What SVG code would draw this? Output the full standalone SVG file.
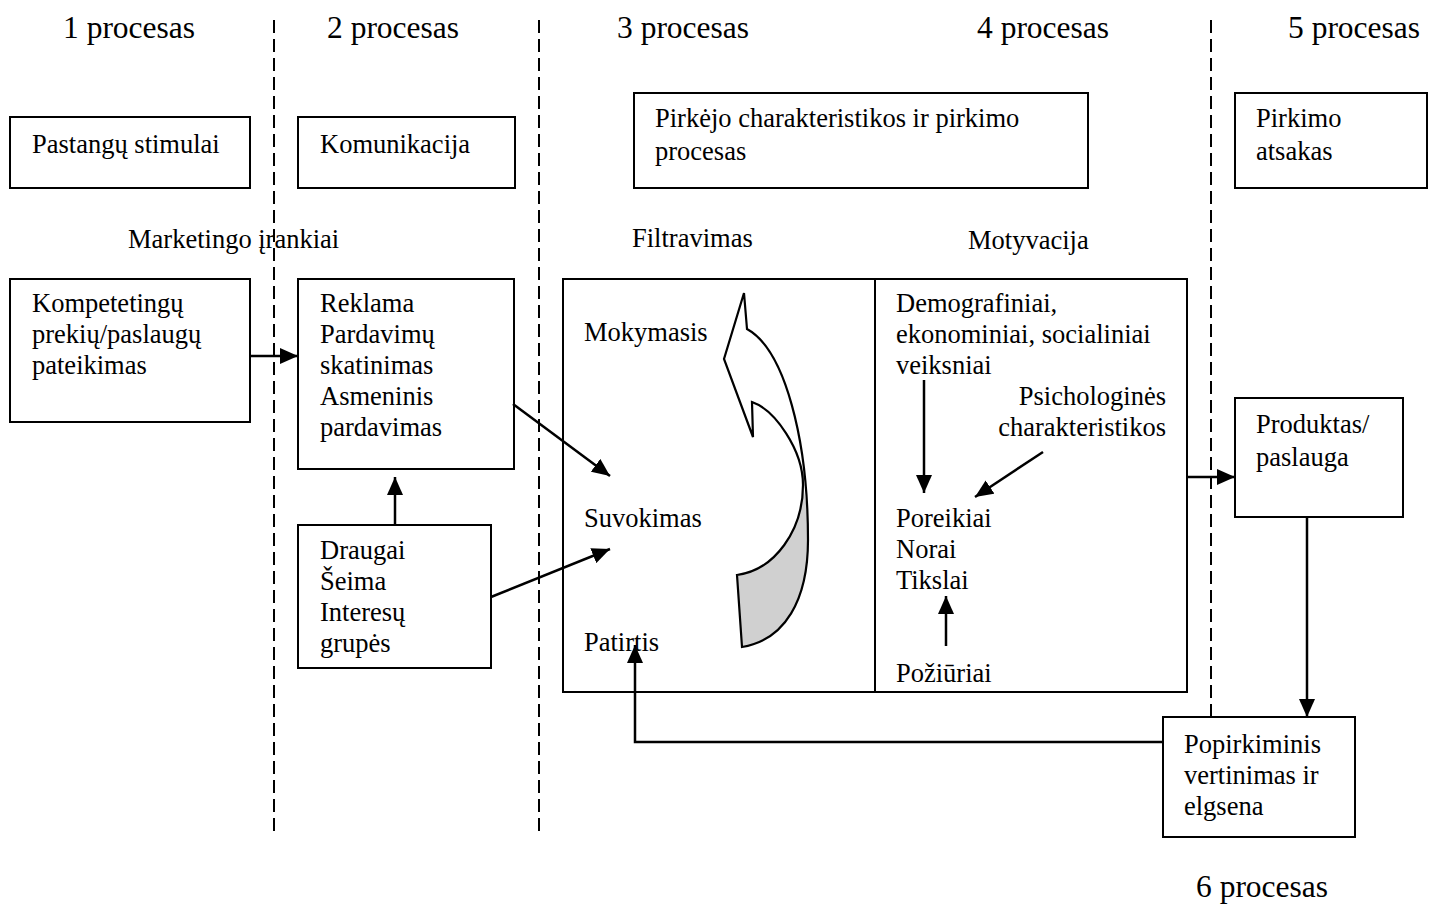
<svg xmlns="http://www.w3.org/2000/svg" width="1438" height="906" viewBox="0 0 1438 906">
  <style>
    text { font-family: "Liberation Serif", "Times New Roman", serif; fill: #000; }
    .hdr { font-size: 31.5px; }
    .txt { font-size: 26.5px; }
    .box { fill: #fff; stroke: #000; stroke-width: 2; }
    .div { fill: none; stroke: #000; stroke-width: 2; stroke-dasharray: 13 6; }
    .con { fill: none; stroke: #000; stroke-width: 2.5; marker-end: url(#arrow); }
    .ribbon { fill: none; stroke: #000; stroke-width: 2.2; stroke-linejoin: miter; }
  </style>
  <defs>
    <marker id="arrow" markerUnits="userSpaceOnUse" markerWidth="18" markerHeight="16" refX="18" refY="8" orient="auto">
      <path d="M0,0 L18,8 L0,16 Z" fill="#000"/>
    </marker>
  </defs>

  <rect width="1438" height="906" fill="#fff"/>

  <!-- process dividers -->
  <g id="dividers">
    <line class="div" x1="274" y1="20" x2="274" y2="836"/>
    <line class="div" x1="539" y1="20" x2="539" y2="836"/>
    <line class="div" x1="1211" y1="20" x2="1211" y2="716"/>
  </g>

  <!-- process headings -->
  <g id="headings">
    <text class="hdr" x="63" y="38">1 procesas</text>
    <text class="hdr" x="327" y="38">2 procesas</text>
    <text class="hdr" x="617" y="38">3 procesas</text>
    <text class="hdr" x="977" y="38">4 procesas</text>
    <text class="hdr" x="1288" y="38">5 procesas</text>
    <text class="hdr" x="1196" y="897">6 procesas</text>
  </g>

  <!-- section labels -->
  <g id="labels">
    <text class="txt" x="128" y="248">Marketingo įrankiai</text>
    <text class="txt" x="632" y="247">Filtravimas</text>
    <text class="txt" x="968" y="249">Motyvacija</text>
  </g>

  <g id="n-stimulai">
    <rect class="box" x="10" y="117" width="240" height="71"/>
    <text class="txt" x="32" y="153">Pastangų stimulai</text>
  </g>

  <g id="n-komunikacija">
    <rect class="box" x="298" y="117" width="217" height="71"/>
    <text class="txt" x="320" y="153">Komunikacija</text>
  </g>

  <g id="n-pirkejo">
    <rect class="box" x="634" y="93" width="454" height="95"/>
    <text class="txt" x="655" y="127">Pirkėjo charakteristikos ir pirkimo</text>
    <text class="txt" x="655" y="160">procesas</text>
  </g>

  <g id="n-atsakas">
    <rect class="box" x="1235" y="93" width="192" height="95"/>
    <text class="txt" x="1256" y="127">Pirkimo</text>
    <text class="txt" x="1256" y="160">atsakas</text>
  </g>

  <g id="n-kompetetingu">
    <rect class="box" x="10" y="279" width="240" height="143"/>
    <text class="txt" x="32" y="312">Kompetetingų</text>
    <text class="txt" x="32" y="343">prekių/paslaugų</text>
    <text class="txt" x="32" y="374">pateikimas</text>
  </g>

  <g id="n-reklama">
    <rect class="box" x="298" y="279" width="216" height="190"/>
    <text class="txt" x="320" y="312">Reklama</text>
    <text class="txt" x="320" y="343">Pardavimų</text>
    <text class="txt" x="320" y="374">skatinimas</text>
    <text class="txt" x="320" y="405">Asmeninis</text>
    <text class="txt" x="320" y="436">pardavimas</text>
  </g>

  <g id="n-draugai">
    <rect class="box" x="298" y="525" width="193" height="143"/>
    <text class="txt" x="320" y="559">Draugai</text>
    <text class="txt" x="320" y="590">Šeima</text>
    <text class="txt" x="320" y="621">Interesų</text>
    <text class="txt" x="320" y="652">grupės</text>
  </g>

  <!-- filtering / motivation panel -->
  <g id="n-panel">
    <rect class="box" x="563" y="279" width="624" height="413"/>
    <line x1="875" y1="279" x2="875" y2="692" stroke="#000" stroke-width="2"/>
    <text class="txt" x="584" y="341">Mokymasis</text>
    <text class="txt" x="584" y="527">Suvokimas</text>
    <text class="txt" x="584" y="651">Patirtis</text>
    <text class="txt" x="896" y="312">Demografiniai,</text>
    <text class="txt" x="896" y="343">ekonominiai, socialiniai</text>
    <text class="txt" x="896" y="374">veiksniai</text>
    <text class="txt" x="1166" y="405" text-anchor="end">Psichologinės</text>
    <text class="txt" x="1166" y="436" text-anchor="end">charakteristikos</text>
    <text class="txt" x="896" y="527">Poreikiai</text>
    <text class="txt" x="896" y="558">Norai</text>
    <text class="txt" x="896" y="589">Tikslai</text>
    <text class="txt" x="896" y="682">Požiūriai</text>
  </g>

  <!-- twisted ribbon arrow (learning loop) -->
  <g id="n-ribbon">
    <path d="M747,329 L744,293 L724,359 L753,437 L752,402 C775,410 803,450 803,485 C803,530 775,570 737,575 L742,647 C785,640 808,600 808,540 C808,440 785,350 747,329 Z" fill="#fff"/>
    <path d="M803,485 C803,530 775,570 737,575 L742,647 C785,640 808,600 808,540 C808,515 806,500 803,485 Z" fill="#d0d0d0"/>
    <path class="ribbon" d="M747,329 L744,293 L724,359 L753,437 L752,402 C775,410 803,450 803,485 C803,530 775,570 737,575 L742,647 C785,640 808,600 808,540 C808,440 785,350 747,329 Z"/>
  </g>

  <g id="n-produktas">
    <rect class="box" x="1235" y="398" width="168" height="119"/>
    <text class="txt" x="1256" y="433">Produktas/</text>
    <text class="txt" x="1256" y="466">paslauga</text>
  </g>

  <g id="n-popirkiminis">
    <rect class="box" x="1163" y="717" width="192" height="120"/>
    <text class="txt" x="1184" y="753">Popirkiminis</text>
    <text class="txt" x="1184" y="784">vertinimas ir</text>
    <text class="txt" x="1184" y="815">elgsena</text>
  </g>

  <!-- connectors -->
  <g id="connectors">
    <line class="con" x1="250" y1="356" x2="298" y2="356"/>
    <line class="con" x1="395" y1="525" x2="395" y2="477"/>
    <line class="con" x1="513" y1="404" x2="610" y2="476"/>
    <line class="con" x1="491" y1="597" x2="610" y2="549"/>
    <line class="con" x1="924" y1="380" x2="924" y2="493"/>
    <line class="con" x1="1043" y1="452" x2="975" y2="497"/>
    <line class="con" x1="946" y1="646" x2="946" y2="596"/>
    <line class="con" x1="1187" y1="477" x2="1235" y2="477"/>
    <line class="con" x1="1307" y1="517" x2="1307" y2="717"/>
    <polyline class="con" points="1163,742 635,742 635,645"/>
  </g>
</svg>
